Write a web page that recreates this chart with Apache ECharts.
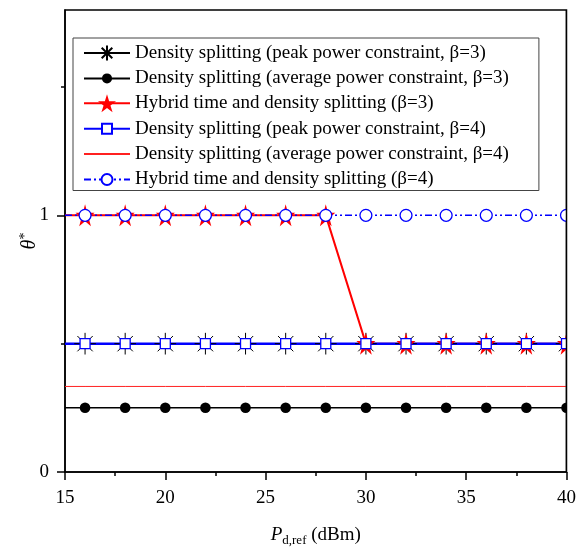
<!DOCTYPE html>
<html>
<head>
<meta charset="utf-8">
<script src="https://cdn.jsdelivr.net/npm/echarts@6/dist/echarts.min.js"></script>
<style>
  html, body { margin: 0; padding: 0; background: #fff; }
  #chart { width: 579px; height: 552px; }
</style>
</head>
<body>
<div id="chart"></div>
<script>
// Reference power P_d,ref (dBm); the first point only anchors the line at the left edge
const xValues = [15, 16, 18, 20, 22, 24, 26, 28, 30, 32, 34, 36, 38, 40];

// Optimal theta* for each scheme
const peakBeta3   = [0.5, 0.5, 0.5, 0.5, 0.5, 0.5, 0.5, 0.5, 0.5, 0.5, 0.5, 0.5, 0.5, 0.5];
const avgBeta3    = [0.25, 0.25, 0.25, 0.25, 0.25, 0.25, 0.25, 0.25, 0.25, 0.25, 0.25, 0.25, 0.25, 0.25];
const hybridBeta3 = [1, 1, 1, 1, 1, 1, 1, 1, 0.5, 0.5, 0.5, 0.5, 0.5, 0.5];
const peakBeta4   = [0.5, 0.5, 0.5, 0.5, 0.5, 0.5, 0.5, 0.5, 0.5, 0.5, 0.5, 0.5, 0.5, 0.5];
const avgBeta4    = [0.3333, 0.3333, 0.3333, 0.3333, 0.3333, 0.3333, 0.3333, 0.3333, 0.3333, 0.3333, 0.3333, 0.3333, 0.3333, 0.3333];
const hybridBeta4 = [1, 1, 1, 1, 1, 1, 1, 1, 1, 1, 1, 1, 1, 1];

const seriesNames = [
  'Density splitting (peak power constraint, \u03b2=3)',
  'Density splitting (average power constraint, \u03b2=3)',
  'Hybrid time and density splitting (\u03b2=3)',
  'Density splitting (peak power constraint, \u03b2=4)',
  'Density splitting (average power constraint, \u03b2=4)',
  'Hybrid time and density splitting (\u03b2=4)'
];

const xTicks = [15, 20, 25, 30, 35, 40];
const yLabelValues = [0, 1];
const yMinorValues = [0.5, 1.5];

const FONT = '"Times New Roman", "Liberation Serif", serif';

// Marker shapes, all drawn inside an 18x18 box so legend icons keep their relative sizes
const BOX = 'M0,0L0,0M18,18L18,18';
const SYM = {
  asterisk: 'path://M1.5,9L16.5,9M9,1.5L9,16.5M3.7,3.7L14.3,14.3M14.3,3.7L3.7,14.3' + BOX,
  dot: 'path://M4,9A5,5,0,1,1,14,9A5,5,0,1,1,4,9Z' + BOX,
  star: 'path://M10,0L12.25,6.91L19.51,6.91L13.63,11.18L15.88,18.09L10,13.82L4.12,18.09L6.37,11.18L0.49,6.91L7.75,6.91Z',
  square: 'path://M4,4L14,4L14,14L4,14Z' + BOX,
  ring: 'path://M3.5,9A5.5,5.5,0,1,1,14.5,9A5.5,5.5,0,1,1,3.5,9Z' + BOX,
  blank: 'path://' + BOX
};

function points(ys) {
  return xValues.map(function (x, i) {
    return i === 0 ? { value: [x, ys[i]], symbol: 'none' } : [x, ys[i]];
  });
}

function lineSeries(name, ys, symbol, size, color, fill, border, lineStyle) {
  return {
    name: name,
    type: 'line',
    data: points(ys),
    symbol: symbol,
    symbolSize: size,
    showSymbol: true,
    clip: true,
    silent: true,
    lineStyle: lineStyle,
    itemStyle: { color: fill, borderColor: color, borderWidth: border },
    emphasis: { disabled: true }
  };
}

const chart = echarts.init(document.getElementById('chart'), null, { renderer: 'canvas' });

const option = {
  animation: false,
  backgroundColor: '#fff',
  textStyle: { fontFamily: FONT, color: '#000' },
  grid: {
    left: 65, right: 10, top: 10, bottom: 78,
    show: true, borderColor: '#000', borderWidth: 1.5, backgroundColor: 'transparent'
  },
  legend: {
    data: seriesNames,
    orient: 'vertical',
    left: 73,
    top: 38,
    itemWidth: 46,
    itemHeight: 22.5,
    itemGap: 5.9,
    padding: [5, 30, 1, 10],
    borderColor: '#444',
    borderWidth: 1,
    backgroundColor: '#fff',
    selectedMode: false,
    textStyle: { fontFamily: FONT, fontSize: 19, color: '#000' }
  },
  xAxis: {
    type: 'value',
    min: 15,
    max: 40,
    interval: 5,
    name: '{i|P}{s|d,ref}{n| (dBm)}',
    nameLocation: 'middle',
    nameGap: 51,
    nameMoveOverlap: false,
    nameTextStyle: {
      rich: {
        i: { fontFamily: FONT, fontStyle: 'italic', fontSize: 19, lineHeight: 24, verticalAlign: 'middle', color: '#000' },
        s: { fontFamily: FONT, fontSize: 13, lineHeight: 24, verticalAlign: 'bottom', color: '#000' },
        n: { fontFamily: FONT, fontSize: 19, lineHeight: 24, verticalAlign: 'middle', color: '#000' }
      }
    },
    axisLine: { show: true, lineStyle: { color: '#000', width: 1.5 } },
    axisTick: { show: true, inside: false, length: 8, customValues: xTicks, lineStyle: { color: '#000', width: 1.5 } },
    minorTick: { show: true, splitNumber: 2, length: 4, lineStyle: { color: '#000', width: 1.5 } },
    axisLabel: { customValues: xTicks, fontFamily: FONT, fontSize: 19, color: '#000', margin: 17 },
    splitLine: { show: false },
    minorSplitLine: { show: false }
  },
  yAxis: [
    {
      type: 'value',
      min: 0,
      max: 1.8,
      position: 'left',
      name: '{i|\u03b8}{p|*}',
      nameLocation: 'middle',
      nameGap: 23,
      nameMoveOverlap: false,
      nameTextStyle: {
        rich: {
          i: { fontFamily: FONT, fontStyle: 'italic', fontSize: 20, lineHeight: 24, verticalAlign: 'middle', color: '#000' },
          p: { fontFamily: FONT, fontSize: 14, lineHeight: 24, verticalAlign: 'top', color: '#000' }
        }
      },
      axisLine: { show: true, lineStyle: { color: '#000', width: 1.5 } },
      axisTick: { show: true, inside: false, length: 8, customValues: yLabelValues, lineStyle: { color: '#000', width: 1.5 } },
      axisLabel: { customValues: yLabelValues, fontFamily: FONT, fontSize: 19, color: '#000', margin: 16 },
      splitLine: { show: false }
    },
    {
      type: 'value',
      min: 0,
      max: 1.8,
      position: 'left',
      axisLine: { show: false },
      axisTick: { show: true, inside: false, length: 4, customValues: yMinorValues, lineStyle: { color: '#000', width: 1.5 } },
      axisLabel: { show: false },
      splitLine: { show: false }
    }
  ],
  series: [
    lineSeries(seriesNames[0], peakBeta3, SYM.asterisk, 26, '#000', '#000', 1,
      { color: '#000', width: 1.5 }),
    lineSeries(seriesNames[1], avgBeta3, SYM.dot, 19, '#000', '#000', 0,
      { color: '#000', width: 1.5 }),
    lineSeries(seriesNames[2], hybridBeta3, SYM.star, [19, 22], '#ff0000', '#ff0000', 0,
      { color: '#ff0000', width: 2 }),
    lineSeries(seriesNames[3], peakBeta4, SYM.square, 18, '#0000ff', '#ffffff', 1.3,
      { color: '#0000ff', width: 2.5 }),
    lineSeries(seriesNames[4], avgBeta4, SYM.blank, 18, '#ff2020', '#ff2020', 0,
      { color: '#ff2020', width: 1 }),
    lineSeries(seriesNames[5], hybridBeta4, SYM.ring, 19.5, '#0000ff', '#ffffff', 1.3,
      { color: '#0000ff', width: 1.5, type: [7, 3, 2, 3, 2, 3] })
  ]
};

chart.setOption(option);

// Trim markers that overhang the right frame edge and redraw that edge on top
const bottomRight = chart.convertToPixel({ gridIndex: 0 }, [40, 0]);
const topRight = chart.convertToPixel({ gridIndex: 0 }, [40, 1.8]);
chart.setOption({
  graphic: [
    {
      type: 'rect', z: 100, silent: true,
      shape: { x: bottomRight[0], y: topRight[1], width: 40, height: bottomRight[1] - topRight[1] },
      style: { fill: '#fff' }
    },
    {
      type: 'line', z: 101, silent: true,
      shape: { x1: bottomRight[0], y1: topRight[1], x2: bottomRight[0], y2: bottomRight[1] },
      style: { stroke: '#000', lineWidth: 1.5 }
    }
  ]
});
</script>
</body>
</html>
